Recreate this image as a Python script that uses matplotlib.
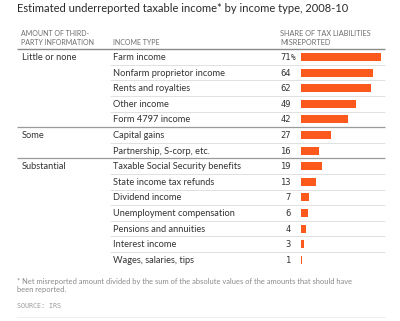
import matplotlib
matplotlib.use("Agg")
import matplotlib.pyplot as plt

title = "Estimated underreported taxable income* by income type, 2008-10"
groups = ["Little or none", "Some", "Substantial"]
group_sizes = [5, 2, 7]
income_types = [
    "Farm income", "Nonfarm proprietor income", "Rents and royalties",
    "Other income", "Form 4797 income", "Capital gains",
    "Partnership, S-corp, etc.", "Taxable Social Security benefits",
    "State income tax refunds", "Dividend income",
    "Unemployment compensation", "Pensions and annuities",
    "Interest income", "Wages, salaries, tips",
]
values = [71, 64, 62, 49, 42, 27, 16, 19, 13, 7, 6, 4, 3, 1]
header_cols = ["AMOUNT OF THIRD-\nPARTY INFORMATION", "INCOME TYPE",
               "SHARE OF TAX LIABILITIES\nMISREPORTED"]
footnote = ("* Net misreported amount divided by the sum of the absolute values of the amounts that should have\n"
            "been reported.")
source = "SOURCE: IRS"

W, H = 400, 321
fig = plt.figure(figsize=(W / 100, H / 100), dpi=100)
fig.patch.set_facecolor("white")
ax = fig.add_axes([0, 0, 1, 1])
ax.set_xlim(0, W)
ax.set_ylim(H, 0)
ax.axis("off")

TXT = "#333333"
HDR = "#6e6e6e"
ORANGE = "#fc5a1c"
font = "Lato"

top = 49.2
pitch = 15.6
n = len(values)
x_left, x_right = 17, 385
x_col1, x_col2 = 22, 113
x_num = 291

ax.text(x_left, 9, title, fontsize=8.0, color="#2a2a2a", family=font, va="center", ha="left")

ax.text(21, 38, header_cols[0], fontsize=5.0, color=HDR, family=font, va="center",
        ha="left", linespacing=1.25)
ax.text(x_col2, 42.5, header_cols[1], fontsize=5.0, color=HDR, family=font, va="center", ha="left")
ax.text(280, 38, header_cols[2], fontsize=5.3, color=HDR, family=font, va="center",
        ha="left", linespacing=1.2)
ax.plot([x_left, x_right], [top - 0.5, top - 0.5], color="#8a8a8a", lw=1.0, solid_capstyle="butt")

starts = []
s = 0
for g in group_sizes:
    starts.append(s)
    s += g

for i, (lab, v) in enumerate(zip(income_types, values)):
    yc = top + pitch * (i + 0.5)
    ax.text(x_col2, yc + 0.5, lab, fontsize=6.7, color=TXT, family=font, va="center", ha="left")
    ax.text(x_num, yc + 0.5, str(v), fontsize=6.3, color=TXT, family="DejaVu Sans Mono",
            va="center", ha="right")
    if i == 0:
        ax.text(x_num, yc + 0.5, "%", fontsize=5.5, color=TXT, family="DejaVu Sans Mono",
                va="center", ha="left")
    yb = top + pitch * (i + 1)
    if i < n - 1:
        if (i + 1) in starts:
            ax.plot([x_left, x_right], [yb, yb], color="#9a9a9a", lw=0.9, solid_capstyle="butt")
        else:
            ax.plot([x_col2 - 3, x_right], [yb, yb], color="#dcdcdc", lw=0.6, solid_capstyle="butt")

for g, st in zip(groups, starts):
    yc = top + pitch * (st + 0.5)
    ax.text(x_col1, yc + 0.5, g, fontsize=6.7, color=TXT, family=font, va="center", ha="left")

ax.text(x_left, 285.5, footnote, fontsize=5.4, color="#8a8a8a", family=font, va="center",
        ha="left", linespacing=1.25)
ax.text(x_left, 305.5, source, fontsize=4.8, color="#9a9a9a", family="DejaVu Sans Mono",
        va="center", ha="left")
ax.plot([x_left, x_right], [317, 317], color="#ededed", lw=0.6)

bx0, bx1 = 301, 381
by0, by1 = top, top + pitch * n
bax = fig.add_axes([bx0 / W, 1 - by1 / H, (bx1 - bx0) / W, (by1 - by0) / H])
bax.barh(range(n), values, height=8 / pitch, color=ORANGE, left=0)
bax.set_xlim(0, max(values))
bax.set_ylim(n - 0.5, -0.5)
bax.axis("off")
bax.patch.set_alpha(0)

fig.savefig("out.png", dpi=100, facecolor="white")
